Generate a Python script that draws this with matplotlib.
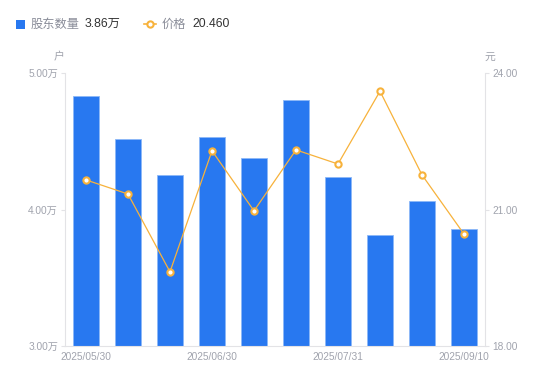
import matplotlib
matplotlib.use("Agg")
import matplotlib.pyplot as plt
from matplotlib.lines import Line2D
from matplotlib.patches import Rectangle

plt.rcParams['font.family'] = ['Liberation Sans', 'Noto Sans CJK SC', 'DejaVu Sans']

dates = ["2025/05/30", "2025/06/10", "2025/06/20", "2025/06/30", "2025/07/10",
         "2025/07/20", "2025/07/31", "2025/08/10", "2025/08/20", "2025/09/10"]
holders = [4.83, 4.52, 4.25, 4.53, 4.38, 4.80, 4.24, 3.81, 4.06, 3.86]  # 万户
prices = [21.65, 21.34, 19.63, 22.29, 20.97, 22.31, 22.00, 23.60, 21.76, 20.46]
left_ticks = [3.0, 4.0, 5.0]
right_ticks = [18.0, 21.0, 24.0]

BLUE = "#2878F0"
EDGE = "#8DB8F7"
ORANGE = "#F7B23B"
GREY = "#A0A3AD"
AXC = "#E3E3E6"

fig = plt.figure(figsize=(5.5, 3.81), dpi=100)
ax = fig.add_axes([65/550, 1-346/381, 420/550, 273/381])
x = list(range(len(dates)))
ax.bar(x, holders, width=0.6, color=BLUE, edgecolor=EDGE, linewidth=0.6, zorder=2)
ax.set_xlim(-0.5, len(dates)-0.5)
ax.set_ylim(3.0, 5.0)
ax.set_yticks(left_ticks)
ax.set_yticklabels([f"{v:.2f}万" for v in left_ticks], family=['Liberation Sans', 'Noto Sans CJK SC'])
ax.set_xticks([0, 3, 6, 9])
ax.set_xticklabels([dates[i] for i in [0, 3, 6, 9]])
ax.tick_params(axis='y', colors=AXC, labelcolor=GREY, labelsize=7.3, length=3, width=0.8, pad=2)
ax.tick_params(axis='x', length=0, labelcolor=GREY, labelsize=7.3, pad=4)
for s in ['top', 'right']:
    ax.spines[s].set_visible(False)
for s in ['left', 'bottom']:
    ax.spines[s].set_color(AXC)
    ax.spines[s].set_linewidth(0.8)

ax2 = ax.twinx()
ax2.plot(x, prices, color=ORANGE, linewidth=0.9, marker='o', markersize=4.5,
         markerfacecolor='white', markeredgecolor=ORANGE, markeredgewidth=1.5, zorder=3)
ax2.set_ylim(18.0, 24.0)
ax2.set_yticks(right_ticks)
ax2.set_yticklabels([f"{v:.2f}" for v in right_ticks])
ax2.tick_params(axis='y', colors=AXC, labelcolor=GREY, labelsize=7.3, length=3, width=0.8, pad=2)
for s in ['top', 'left', 'bottom']:
    ax2.spines[s].set_visible(False)
ax2.spines['right'].set_color(AXC)
ax2.spines['right'].set_linewidth(0.8)

cjk = ['Noto Sans CJK SC', 'DejaVu Sans']
fig.text(59/550, 1-57/381, "户", color=GREY, fontsize=7.8, family=cjk, ha='center', va='center')
fig.text(490/550, 1-57/381, "元", color=GREY, fontsize=7.8, family=cjk, ha='center', va='center')

# legend
fig.patches.append(Rectangle((16/550, 1-29/381), 9/550, 9/381, transform=fig.transFigure,
                             facecolor=BLUE, edgecolor='none'))
fig.text(31/550, 1-24/381, "股东数量", color="#8A8D99", fontsize=8.8, family=cjk, va='center')
fig.text(85/550, 1-24/381, f"{holders[-1]:.2f}万", color="#333333", fontsize=8.8,
         family=['Liberation Sans', 'Noto Sans CJK SC'], va='center')
fig.lines.append(Line2D([144/550, 156/550], [1-24/381, 1-24/381], transform=fig.transFigure,
                        color=ORANGE, linewidth=1.2))
fig.lines.append(Line2D([150/550], [1-24/381], transform=fig.transFigure, color=ORANGE,
                        marker='o', markersize=4.5, markerfacecolor='white',
                        markeredgecolor=ORANGE, markeredgewidth=1.5, linestyle='none'))
fig.text(162/550, 1-24/381, "价格", color="#8A8D99", fontsize=8.8, family=cjk, va='center')
fig.text(192/550, 1-24/381, f"{prices[-1]:.3f}", color="#333333", fontsize=8.8,
         family=['Liberation Sans'], va='center')

fig.savefig("out.png", dpi=100)
